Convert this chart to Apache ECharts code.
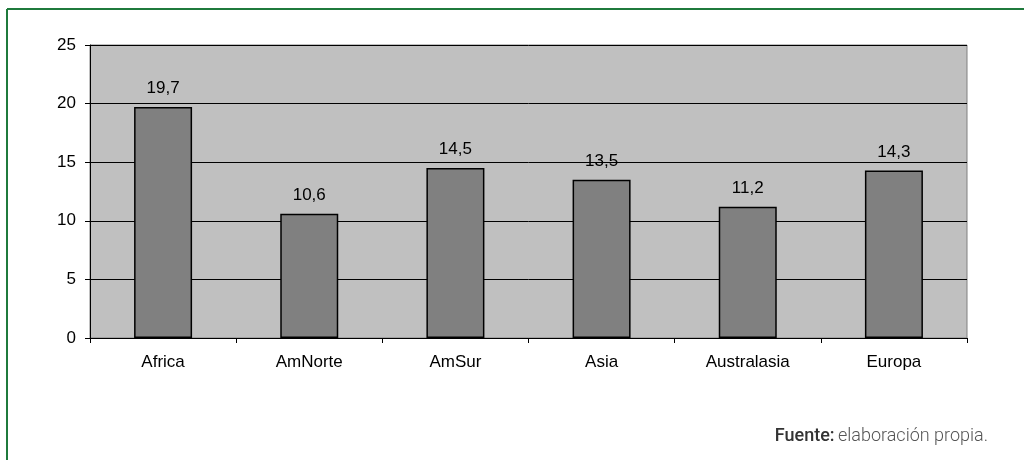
<!DOCTYPE html>
<html>
<head>
<meta charset="utf-8">
<script src="https://cdn.jsdelivr.net/npm/echarts@6/dist/echarts.min.js"></script>
<style>
  html, body { margin: 0; padding: 0; background: #fff; }
  #chart { width: 1024px; height: 460px; }
</style>
</head>
<body>
<div id="chart"></div>
<script>
const regions = ['Africa', 'AmNorte', 'AmSur', 'Asia', 'Australasia', 'Europa'];
const values = [19.7, 10.6, 14.5, 13.5, 11.2, 14.3];

const FONT = '"Liberation Sans", Arial, sans-serif';
const chart = echarts.init(document.getElementById('chart'));

const option = {
  animation: false,
  grid: {
    show: true,
    left: 90,
    right: 57,
    top: 45,
    bottom: 122,
    backgroundColor: '#C0C0C0',
    borderColor: '#808080',
    borderWidth: 1,
  },
  xAxis: {
    type: 'category',
    data: regions,
    axisLine: { show: true, lineStyle: { color: '#000', width: 1 } },
    axisTick: { show: true, length: 5, lineStyle: { color: '#000' } },
    axisLabel: { color: '#000', fontSize: 17, fontFamily: FONT, margin: 16 },
  },
  yAxis: {
    type: 'value',
    min: 0,
    max: 25,
    interval: 5,
    axisLine: { show: true, lineStyle: { color: '#000', width: 1 } },
    axisTick: { show: true, length: 5, lineStyle: { color: '#000' } },
    axisLabel: { color: '#000', fontSize: 17, fontFamily: FONT, margin: 14 },
    splitLine: { show: true, lineStyle: { color: '#000', width: 1 } },
  },
  series: [
    {
      type: 'bar',
      data: values,
      barWidth: 58,
      itemStyle: { color: '#808080', borderColor: '#000', borderWidth: 1.5 },
      label: {
        show: true,
        position: 'top',
        distance: 10,
        color: '#000',
        fontSize: 17,
        fontFamily: FONT,
        formatter: (p) => String(p.value).replace('.', ','),
      },
    },
  ],
  graphic: [
    // marco verde (arriba e izquierda)
    {
      type: 'line',
      shape: { x1: 7, y1: 9, x2: 1024, y2: 9 },
      style: { stroke: '#1f7a3c', lineWidth: 2 },
    },
    {
      type: 'line',
      shape: { x1: 7, y1: 9, x2: 7, y2: 460 },
      style: { stroke: '#1f7a3c', lineWidth: 2 },
    },
    {
      type: 'text',
      right: 36,
      top: 427,
      style: {
        text: '{b|Fuente:} {n|elaboración propia.}',
        rich: {
          b: { fontFamily: 'Roboto, sans-serif', fontSize: 18, fontWeight: 500, fill: '#333' },
          n: { fontFamily: 'Roboto, sans-serif', fontSize: 18, fontWeight: 300, fill: '#555' },
        },
      },
    },
  ],
};

chart.setOption(option);
</script>
</body>
</html>
